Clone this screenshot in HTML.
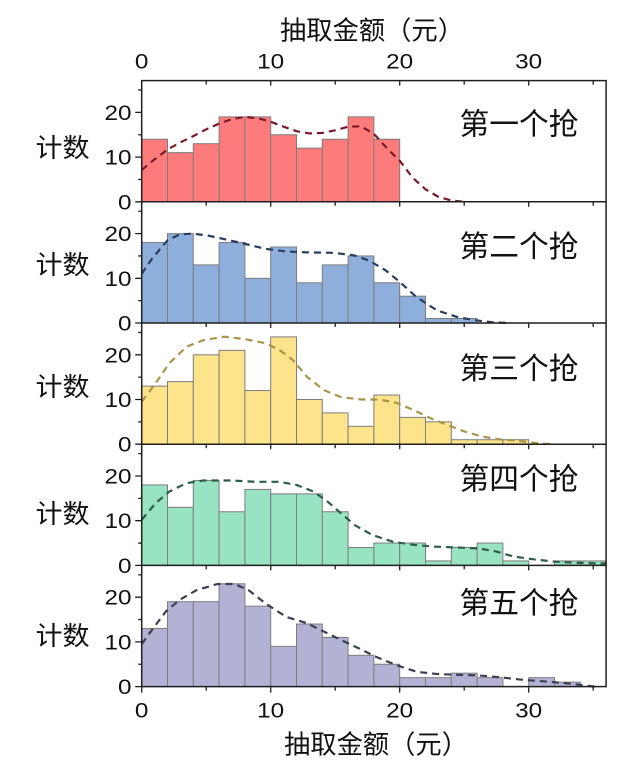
<!DOCTYPE html>
<html><head><meta charset="utf-8"><style>
html,body{margin:0;padding:0;background:#fff;}
svg{display:block;}
.n{font-family:"Liberation Sans",Arial,sans-serif;font-size:21px;fill:#111;}
.c{font-family:"Liberation Sans","Noto Sans CJK SC",sans-serif;fill:#111;}
</style></head><body>
<svg width="640" height="776" viewBox="0 0 640 776" xmlns="http://www.w3.org/2000/svg">
<rect width="640" height="776" fill="#fff"/>

<!-- Panel 1 bars -->
<g transform="translate(0,201.8)" fill="#fe7b7b" stroke="#7d7d7d" stroke-width="1">
<rect x="141.7" y="-62.58" width="25.8" height="62.58"/>
<rect x="167.5" y="-49.17" width="25.8" height="49.17"/>
<rect x="193.3" y="-58.11" width="25.8" height="58.11"/>
<rect x="219.1" y="-84.93" width="25.8" height="84.93"/>
<rect x="244.9" y="-84.93" width="25.8" height="84.93"/>
<rect x="270.7" y="-67.05" width="25.8" height="67.05"/>
<rect x="296.5" y="-53.64" width="25.8" height="53.64"/>
<rect x="322.3" y="-62.58" width="25.8" height="62.58"/>
<rect x="348.1" y="-84.93" width="25.8" height="84.93"/>
<rect x="373.9" y="-62.58" width="25.8" height="62.58"/>
</g>
<polyline fill="none" stroke="#7a1c28" stroke-width="2.2" stroke-dasharray="7 5" stroke-linejoin="round"
points="141.7,170.06 154.6,159.33 167.5,149.5 180.4,142.35 193.3,136.09 206.2,129.39 219.1,123.57 232,119.1 244.9,116.87 257.8,118.21 270.7,121.79 283.6,126.7 296.5,131.17 309.4,133.41 322.3,132.96 335.2,130.28 348.1,126.7 361,126.26 373.9,133.86 386.8,148.16 399.7,160.68 412.6,177.66 425.5,189.28 438.4,196.88 451.3,200.46 464.2,201.8"/>

<!-- Panel 2 bars -->
<g transform="translate(0,323)" fill="#8eafdc" stroke="#7d7d7d" stroke-width="1">
<rect x="141.7" y="-80.46" width="25.8" height="80.46"/>
<rect x="167.5" y="-89.4" width="25.8" height="89.4"/>
<rect x="193.3" y="-58.11" width="25.8" height="58.11"/>
<rect x="219.1" y="-80.46" width="25.8" height="80.46"/>
<rect x="244.9" y="-44.7" width="25.8" height="44.7"/>
<rect x="270.7" y="-75.99" width="25.8" height="75.99"/>
<rect x="296.5" y="-40.23" width="25.8" height="40.23"/>
<rect x="322.3" y="-58.11" width="25.8" height="58.11"/>
<rect x="348.1" y="-67.05" width="25.8" height="67.05"/>
<rect x="373.9" y="-40.23" width="25.8" height="40.23"/>
<rect x="399.7" y="-26.82" width="25.8" height="26.82"/>
<rect x="425.5" y="-4.47" width="25.8" height="4.47"/>
<rect x="451.3" y="-4.47" width="25.8" height="4.47"/>
</g>
<polyline fill="none" stroke="#2b3d5e" stroke-width="2.2" stroke-dasharray="7 5" stroke-linejoin="round"
points="141.7,273.83 152.02,258.63 167.5,240.3 179.5,234.49 191.62,233.6 207.1,235.39 227.74,239.86 244.9,243.88 265.54,248.8 286.18,251.48 306.82,252.37 333.91,252.82 354.55,255.5 368.74,260.42 385.51,270.25 399.7,281.88 416.47,297.07 437.11,310.48 457.75,317.19 475.81,320.32 492.58,322.33 508.06,323"/>

<!-- Panel 3 bars -->
<g transform="translate(0,444.2)" fill="#fde48b" stroke="#7d7d7d" stroke-width="1">
<rect x="141.7" y="-58.11" width="25.8" height="58.11"/>
<rect x="167.5" y="-62.58" width="25.8" height="62.58"/>
<rect x="193.3" y="-89.4" width="25.8" height="89.4"/>
<rect x="219.1" y="-93.87" width="25.8" height="93.87"/>
<rect x="244.9" y="-53.64" width="25.8" height="53.64"/>
<rect x="270.7" y="-107.28" width="25.8" height="107.28"/>
<rect x="296.5" y="-44.7" width="25.8" height="44.7"/>
<rect x="322.3" y="-31.29" width="25.8" height="31.29"/>
<rect x="348.1" y="-17.88" width="25.8" height="17.88"/>
<rect x="373.9" y="-49.17" width="25.8" height="49.17"/>
<rect x="399.7" y="-26.82" width="25.8" height="26.82"/>
<rect x="425.5" y="-22.35" width="25.8" height="22.35"/>
<rect x="451.3" y="-4.47" width="25.8" height="4.47"/>
<rect x="477.1" y="-4.47" width="25.8" height="4.47"/>
<rect x="502.9" y="-4.47" width="25.8" height="4.47"/>
</g>
<polyline fill="none" stroke="#a8944a" stroke-width="2.2" stroke-dasharray="7 5" stroke-linejoin="round"
points="141.7,401.73 155.5,383.41 169.18,363.29 186.46,346.75 203.62,340.05 224.26,336.7 244.9,339.15 265.54,343.18 279.34,349.88 293.02,360.16 306.82,376.7 324,390.11 341.26,397.26 361.9,399.5 379.06,399.5 395.83,402.63 413.5,410 430.66,418.27 447.43,424.98 465.1,431.68 482.26,436.6 499.03,439.28 517.09,440.62 530,442.41 544.18,443.75 554.5,444.2"/>

<!-- Panel 4 bars -->
<g transform="translate(0,565.4)" fill="#98e3c1" stroke="#7d7d7d" stroke-width="1">
<rect x="141.7" y="-80.46" width="25.8" height="80.46"/>
<rect x="167.5" y="-58.11" width="25.8" height="58.11"/>
<rect x="193.3" y="-84.93" width="25.8" height="84.93"/>
<rect x="219.1" y="-53.64" width="25.8" height="53.64"/>
<rect x="244.9" y="-75.99" width="25.8" height="75.99"/>
<rect x="270.7" y="-71.52" width="25.8" height="71.52"/>
<rect x="296.5" y="-71.52" width="25.8" height="71.52"/>
<rect x="322.3" y="-53.64" width="25.8" height="53.64"/>
<rect x="348.1" y="-17.88" width="25.8" height="17.88"/>
<rect x="373.9" y="-22.35" width="25.8" height="22.35"/>
<rect x="399.7" y="-22.35" width="25.8" height="22.35"/>
<rect x="425.5" y="-4.47" width="25.8" height="4.47"/>
<rect x="451.3" y="-17.88" width="25.8" height="17.88"/>
<rect x="477.1" y="-22.35" width="25.8" height="22.35"/>
<rect x="502.9" y="-4.47" width="25.8" height="4.47"/>
<rect x="554.5" y="-4.47" width="25.8" height="4.47"/>
<rect x="580.3" y="-4.47" width="25.8" height="4.47"/>
</g>
<polyline fill="none" stroke="#2d5e48" stroke-width="2.2" stroke-dasharray="7 5" stroke-linejoin="round"
points="141.7,519.81 155.5,503.27 169.18,491.64 186.46,483.15 203.62,480.47 231.1,480.47 255.22,481.81 279.34,481.81 296.5,484.94 313.66,491.64 327.46,501.48 341.26,513.55 354.94,525.17 372.22,535 392.86,541.71 413.5,544.84 434.14,546.63 457.75,547.52 478.39,548.41 496.45,551.54 513.22,556.46 533.86,559.32 554.5,561.65 575.14,562.72 595.78,563.34 606.1,563.34"/>

<!-- Panel 5 bars -->
<g transform="translate(0,686.6)" fill="#b4b2d4" stroke="#7d7d7d" stroke-width="1">
<rect x="141.7" y="-58.11" width="25.8" height="58.11"/>
<rect x="167.5" y="-84.93" width="25.8" height="84.93"/>
<rect x="193.3" y="-84.93" width="25.8" height="84.93"/>
<rect x="219.1" y="-102.81" width="25.8" height="102.81"/>
<rect x="244.9" y="-80.46" width="25.8" height="80.46"/>
<rect x="270.7" y="-40.23" width="25.8" height="40.23"/>
<rect x="296.5" y="-62.58" width="25.8" height="62.58"/>
<rect x="322.3" y="-49.17" width="25.8" height="49.17"/>
<rect x="348.1" y="-31.29" width="25.8" height="31.29"/>
<rect x="373.9" y="-22.35" width="25.8" height="22.35"/>
<rect x="399.7" y="-8.94" width="25.8" height="8.94"/>
<rect x="425.5" y="-8.94" width="25.8" height="8.94"/>
<rect x="451.3" y="-13.41" width="25.8" height="13.41"/>
<rect x="477.1" y="-8.94" width="25.8" height="8.94"/>
<rect x="528.7" y="-8.94" width="25.8" height="8.94"/>
<rect x="554.5" y="-4.47" width="25.8" height="4.47"/>
</g>
<polyline fill="none" stroke="#3b3f52" stroke-width="2.2" stroke-dasharray="7 5" stroke-linejoin="round"
points="141.7,644.13 152.02,629.83 165.82,611.5 179.5,599.88 196.78,590.05 217.42,584.01 234.58,584.01 248.38,590.05 265.54,603.46 286.18,616.87 306.82,623.13 324,631.62 341.26,640.11 358.42,648.16 375.58,656.65 396.22,665.14 416.86,671.85 437.5,674.08 461.62,674.98 478.39,675.42 499.03,677.21 523.54,679.89 548.05,681.68 568.69,683.47 589.33,686.02 595.78,686.6"/>

<!-- Frames -->
<g fill="none" stroke="#1f1f1f" stroke-width="1.5">
<rect x="141.7" y="80.6" width="464.4" height="606"/>
<line x1="141.7" y1="201.8" x2="606.1" y2="201.8"/>
<line x1="141.7" y1="323" x2="606.1" y2="323"/>
<line x1="141.7" y1="444.2" x2="606.1" y2="444.2"/>
<line x1="141.7" y1="565.4" x2="606.1" y2="565.4"/>
</g>

<!-- Ticks -->
<g stroke="#1f1f1f" stroke-width="1.3">
<path d="M135.2,201.8H141.7 M135.2,157.1H141.7 M135.2,112.4H141.7 M138.2,179.45H141.7 M138.2,134.75H141.7 M138.2,90.05H141.7
M135.2,323H141.7 M135.2,278.3H141.7 M135.2,233.6H141.7 M138.2,300.65H141.7 M138.2,255.95H141.7 M138.2,211.25H141.7
M135.2,444.2H141.7 M135.2,399.5H141.7 M135.2,354.8H141.7 M138.2,421.85H141.7 M138.2,377.15H141.7 M138.2,332.45H141.7
M135.2,565.4H141.7 M135.2,520.7H141.7 M135.2,476H141.7 M138.2,543.05H141.7 M138.2,498.35H141.7 M138.2,453.65H141.7
M135.2,686.6H141.7 M135.2,641.9H141.7 M135.2,597.2H141.7 M138.2,664.25H141.7 M138.2,619.55H141.7 M138.2,574.85H141.7"/>
<path d="M206.2,80.6v4 M270.7,80.6v5 M335.2,80.6v4 M399.7,80.6v5 M464.2,80.6v4 M528.7,80.6v5 M593.2,80.6v4
M206.2,201.8v4 M270.7,201.8v5 M335.2,201.8v4 M399.7,201.8v5 M464.2,201.8v4 M528.7,201.8v5 M593.2,201.8v4
M206.2,323v4 M270.7,323v5 M335.2,323v4 M399.7,323v5 M464.2,323v4 M528.7,323v5 M593.2,323v4
M206.2,444.2v4 M270.7,444.2v5 M335.2,444.2v4 M399.7,444.2v5 M464.2,444.2v4 M528.7,444.2v5 M593.2,444.2v4
M206.2,565.4v4 M270.7,565.4v5 M335.2,565.4v4 M399.7,565.4v5 M464.2,565.4v4 M528.7,565.4v5 M593.2,565.4v4"/>
<path d="M141.7,686.6v6 M206.2,686.6v4 M270.7,686.6v6 M335.2,686.6v4 M399.7,686.6v6 M464.2,686.6v4 M528.7,686.6v6 M593.2,686.6v4"/>
</g>

<!-- Top axis labels -->
<text class="c" x="280" y="39.5" font-size="26" textLength="184" lengthAdjust="spacingAndGlyphs">抽取金额（元）</text>
<g class="n" text-anchor="middle">
<text x="141.7" y="68.5" textLength="13.5" lengthAdjust="spacingAndGlyphs">0</text>
<text x="270.7" y="68.5" textLength="27" lengthAdjust="spacingAndGlyphs">10</text>
<text x="399.7" y="68.5" textLength="27" lengthAdjust="spacingAndGlyphs">20</text>
<text x="528.7" y="68.5" textLength="27" lengthAdjust="spacingAndGlyphs">30</text>
</g>

<!-- Bottom axis labels -->
<g class="n" text-anchor="middle">
<text x="141.7" y="717.5" textLength="13.5" lengthAdjust="spacingAndGlyphs">0</text>
<text x="270.7" y="717.5" textLength="27" lengthAdjust="spacingAndGlyphs">10</text>
<text x="399.7" y="717.5" textLength="27" lengthAdjust="spacingAndGlyphs">20</text>
<text x="528.7" y="717.5" textLength="27" lengthAdjust="spacingAndGlyphs">30</text>
</g>
<text class="c" x="284" y="753.5" font-size="26" textLength="184" lengthAdjust="spacingAndGlyphs">抽取金额（元）</text>

<!-- Y tick labels -->
<g class="n" text-anchor="end">
<text x="131.5" y="209.3" textLength="13.5" lengthAdjust="spacingAndGlyphs">0</text>
<text x="131.5" y="164.6" textLength="27" lengthAdjust="spacingAndGlyphs">10</text>
<text x="131.5" y="119.9" textLength="27" lengthAdjust="spacingAndGlyphs">20</text>

<text x="131.5" y="330.5" textLength="13.5" lengthAdjust="spacingAndGlyphs">0</text>
<text x="131.5" y="285.8" textLength="27" lengthAdjust="spacingAndGlyphs">10</text>
<text x="131.5" y="241.1" textLength="27" lengthAdjust="spacingAndGlyphs">20</text>

<text x="131.5" y="451.7" textLength="13.5" lengthAdjust="spacingAndGlyphs">0</text>
<text x="131.5" y="407" textLength="27" lengthAdjust="spacingAndGlyphs">10</text>
<text x="131.5" y="362.3" textLength="27" lengthAdjust="spacingAndGlyphs">20</text>

<text x="131.5" y="572.9" textLength="13.5" lengthAdjust="spacingAndGlyphs">0</text>
<text x="131.5" y="528.2" textLength="27" lengthAdjust="spacingAndGlyphs">10</text>
<text x="131.5" y="483.5" textLength="27" lengthAdjust="spacingAndGlyphs">20</text>

<text x="131.5" y="694.1" textLength="13.5" lengthAdjust="spacingAndGlyphs">0</text>
<text x="131.5" y="649.4" textLength="27" lengthAdjust="spacingAndGlyphs">10</text>
<text x="131.5" y="604.7" textLength="27" lengthAdjust="spacingAndGlyphs">20</text>
</g>

<!-- Y axis titles -->
<g class="c" font-size="26">
<text x="35.5" y="157" textLength="54" lengthAdjust="spacingAndGlyphs">计数</text>
<text x="35.5" y="274" textLength="54" lengthAdjust="spacingAndGlyphs">计数</text>
<text x="35.5" y="396" textLength="54" lengthAdjust="spacingAndGlyphs">计数</text>
<text x="35.5" y="523" textLength="54" lengthAdjust="spacingAndGlyphs">计数</text>
<text x="35.5" y="645" textLength="54" lengthAdjust="spacingAndGlyphs">计数</text>
</g>

<!-- Panel labels -->
<g class="c" font-size="30">
<text x="459.5" y="134.5" textLength="119" lengthAdjust="spacingAndGlyphs">第一个抢</text>
<text x="459.5" y="256.8" textLength="119" lengthAdjust="spacingAndGlyphs">第二个抢</text>
<text x="459.5" y="379" textLength="119" lengthAdjust="spacingAndGlyphs">第三个抢</text>
<text x="459.5" y="489.3" textLength="119" lengthAdjust="spacingAndGlyphs">第四个抢</text>
<text x="459.5" y="613.5" textLength="119" lengthAdjust="spacingAndGlyphs">第五个抢</text>
</g>
</svg>
</body></html>
